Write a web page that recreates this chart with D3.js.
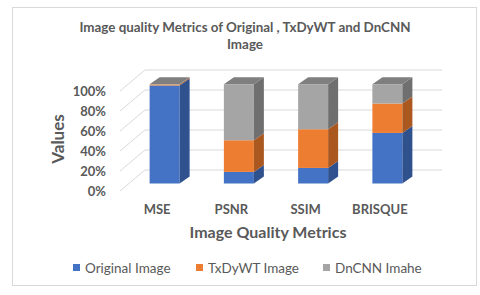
<!DOCTYPE html>
<html><head><meta charset="utf-8">
<script src="https://cdn.jsdelivr.net/npm/d3@7"></script>
<style>body{margin:0;background:#fff}svg{display:block}text{font-family:Lato,"Open Sans",sans-serif}</style>
</head><body>
<svg id="c" width="480" height="295"></svg>
<script>
const categories = ["MSE", "PSNR", "SSIM", "BRISQUE"];
const seriesNames = ["Original Image", "TxDyWT Image", "DnCNN Imahe"];
const originalImage = [98.8, 11.7, 15.7, 51.0];
const txdywtImage = [1.0, 31.9, 39.0, 29.6];
const dncnnImage = [0.2, 56.4, 45.3, 19.4];
const yTicks = [0, 0.2, 0.4, 0.6, 0.8, 1.0];

const frontColors = ["#4472C4", "#ED7D31", "#A5A5A5"];
const sideColors = ["#2F528F", "#AB5720", "#6F6F6F"];
const topColors = ["#5B86D1", "#F09250", "#7F7F7F"];

const rows = categories.map((c, i) => ({cat: c, s0: originalImage[i], s1: txdywtImage[i], s2: dncnnImage[i]}));
const stack = d3.stack().keys(["s0", "s1", "s2"]).offset(d3.stackOffsetExpand);
const layers = stack(rows);

const svg = d3.select("#c");
const txt = "#595959";

// chart border
svg.append("rect").attr("x", 12.5).attr("y", 7.5).attr("width", 464).attr("height", 278)
  .attr("fill", "#fff").attr("stroke", "#d9d9d9").attr("stroke-width", 1);

// scales
const wall = {dx: 25, dy: -21};
const yFront = d3.scaleLinear().domain([0, 1]).range([191, 91]);
const x = d3.scaleBand().domain(categories).range([120, 417]);
const yBar = d3.scaleLinear().domain([0, 1]).range([183.5, 84.3]);
const barOff = 7.5, barW = 30, bd = {dx: 10, dy: -7};

// gridlines (side wall diagonals + back wall)
const g = svg.append("g").attr("stroke", "#d9d9d9").attr("stroke-width", 1).attr("fill", "none");
yTicks.forEach(t => {
  const yf = yFront(t);
  g.append("path").attr("d", `M120,${yf}L${120 + wall.dx},${yf + wall.dy}L${417 + wall.dx},${yf + wall.dy}`);
});

// y tick labels
svg.append("g").selectAll("text").data(yTicks).join("text")
  .attr("x", 106).attr("y", d => yFront(d)).attr("dy", "0.35em")
  .attr("text-anchor", "end").attr("fill", txt).attr("font-size", 13).attr("font-weight", 700)
  .text(d => d3.format(".0%")(d));

// bars
const bars = svg.append("g");
categories.forEach((c, i) => {
  const x0 = x(c) + x.bandwidth() / 2 + barOff - barW / 2;
  const x1 = x0 + barW;
  layers.forEach((layer, k) => {
    const yb = yBar(layer[i][0]), yt = yBar(layer[i][1]);
    bars.append("rect").attr("x", x0).attr("y", yt).attr("width", barW).attr("height", Math.max(0, yb - yt))
      .attr("fill", frontColors[k]);
    bars.append("path").attr("d", `M${x1},${yt}L${x1 + bd.dx},${yt + bd.dy}L${x1 + bd.dx},${yb + bd.dy}L${x1},${yb}Z`)
      .attr("fill", sideColors[k]);
    if (k === layers.length - 1) {
      bars.append("path").attr("d", `M${x0},${yt}L${x0 + bd.dx},${yt + bd.dy}L${x1 + bd.dx},${yt + bd.dy}L${x1},${yt}Z`)
        .attr("fill", topColors[k]);
    }
  });
});

// category labels
svg.append("g").selectAll("text").data(categories).join("text")
  .attr("x", d => x(d) + x.bandwidth() / 2).attr("y", 209).attr("dy", "0.35em")
  .attr("text-anchor", "middle").attr("fill", txt).attr("font-size", 13).attr("font-weight", 700)
  .text(d => d);

// title
const title = svg.append("text").attr("text-anchor", "middle").attr("fill", txt)
  .attr("font-size", 13.4).attr("font-weight", 700);
title.append("tspan").attr("x", 245).attr("y", 32).text("Image quality Metrics of Original , TxDyWT and DnCNN");
title.append("tspan").attr("x", 245).attr("y", 49).text("Image");

// axis titles
svg.append("text").attr("transform", "translate(58,139) rotate(-90)").attr("dy", "0.35em")
  .attr("text-anchor", "middle").attr("fill", txt).attr("font-size", 17).attr("font-weight", 700).text("Values");
svg.append("text").attr("x", 268).attr("y", 232).attr("dy", "0.35em")
  .attr("text-anchor", "middle").attr("fill", txt).attr("font-size", 16).attr("font-weight", 700).text("Image Quality Metrics");

// legend
const legX = [73, 196, 323];
const leg = svg.append("g");
seriesNames.forEach((s, k) => {
  leg.append("rect").attr("x", legX[k]).attr("y", 264).attr("width", 7).attr("height", 7).attr("fill", frontColors[k]);
  leg.append("text").attr("x", legX[k] + 12).attr("y", 268).attr("dy", "0.35em")
    .attr("fill", txt).attr("font-size", 13.5).text(s);
});
</script>
</body></html>
